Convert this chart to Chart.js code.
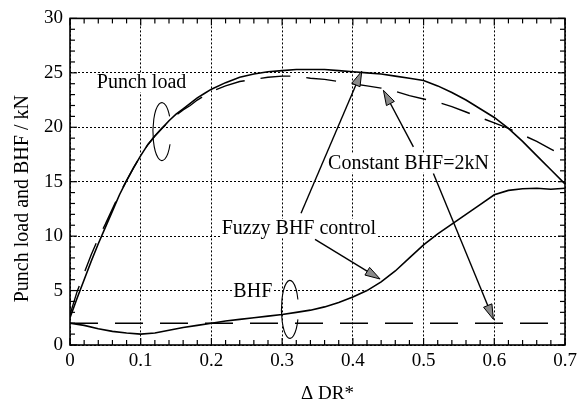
<!DOCTYPE html>
<html><head><meta charset="utf-8">
<script src="https://cdn.jsdelivr.net/npm/chart.js@4/dist/chart.umd.min.js"></script>
<style>html,body{margin:0;padding:0;background:#fff;}#wrap{width:585px;height:405px;}</style>
</head><body><div id="wrap"><canvas id="c" width="585" height="405"></canvas></div>
<script>
// ---- data ----
const xTickValues = [0, 0.1, 0.2, 0.3, 0.4, 0.5, 0.6, 0.7];
const yTickValues = [0, 5, 10, 15, 20, 25, 30];
const drLoad = [0,0.01,0.02,0.03,0.04,0.05,0.06,0.07,0.08,0.09,0.1,0.11,0.12,0.13,0.14,0.15,0.16,0.17,0.18,0.19,0.2,
  0.22,0.24,0.26,0.28,0.3,0.32,0.34,0.36,0.38,0.4,0.42,0.44,0.46,0.48,0.5,0.52,0.54,0.56,0.58,0.6,0.62,0.64,0.66,0.68,0.7];
const punchLoadFuzzy = [2.5,4.3,6.0,7.7,9.3,10.8,12.3,13.8,15.1,16.3,17.4,18.4,19.2,19.9,20.6,21.2,21.7,22.2,22.7,23.1,23.5,
  24.1,24.6,24.9,25.1,25.2,25.3,25.3,25.3,25.2,25.1,25.0,24.9,24.7,24.5,24.3,23.8,23.2,22.5,21.7,20.9,19.9,18.7,17.4,16.1,14.8];
const punchLoadConstant = [2.8,4.9,6.6,8.3,9.8,11.1,12.5,13.9,15.1,16.3,17.4,18.4,19.2,19.9,20.5,21.1,21.6,22.0,22.5,22.9,23.3,
  23.8,24.2,24.4,24.6,24.7,24.7,24.5,24.4,24.2,24.0,23.8,23.6,23.3,22.9,22.6,22.3,21.9,21.4,20.9,20.4,19.9,19.3,18.7,18.0,17.3];
const drBHF = [0,0.02,0.04,0.06,0.08,0.1,0.12,0.14,0.16,0.18,0.2,0.22,0.24,0.26,0.28,0.3,0.32,0.34,0.36,0.38,0.4,
  0.42,0.44,0.46,0.48,0.5,0.52,0.54,0.56,0.58,0.6,0.62,0.64,0.66,0.68,0.7];
const bhfFuzzy = [2.0,1.8,1.5,1.25,1.1,1.0,1.1,1.35,1.6,1.8,2.0,2.2,2.35,2.5,2.65,2.8,3.0,3.2,3.5,3.9,4.4,
  5.0,5.8,6.8,8.0,9.2,10.2,11.1,12.0,12.9,13.8,14.2,14.35,14.4,14.3,14.4];
const drConst = [0,0.1,0.2,0.3,0.4,0.5,0.6,0.7];
const bhfConstant = [2.0,2.0,2.0,2.0,2.0,2.0,2.0,2.0];
const xMinorStep = 0.02, yMinorStep = 1;

// ---- annotations (data coordinates) ----
const labels = [
  {text:'Punch load', x:0.038, y:23.6},
  {text:'BHF', x:0.231, y:4.4},
  {text:'Fuzzy BHF control', x:0.2145, y:10.2},
  {text:'Constant BHF=2kN', x:0.365, y:16.2}
];
const arrows = [
  {x0:0.3267, y0:12.1, x1:0.4126, y1:25.15},
  {x0:0.3465, y0:9.7, x1:0.4385, y1:6.06},
  {x0:0.4856, y0:18.2, x1:0.4432, y1:23.4},
  {x0:0.5139, y0:15.75, x1:0.5988, y1:2.35}
];
const loops = [
  {x:0.130, y:19.6, rx:9, ry:29, a0:0.45, a1:2*Math.PI-0.55},
  {x:0.311, y:3.27, rx:8.5, ry:29, a0:0.35, a1:2*Math.PI-0.35}
];

const zip = (xs, ys) => xs.map((x, i) => ({x, y: ys[i]}));
const FONT = '"Liberation Serif", "Times New Roman", serif';

const deco = {
  id: 'deco',
  afterDatasetsDraw(chart) {
    const {ctx, chartArea: a, scales: {x, y}} = chart;
    const line = (x0, y0, x1, y1) => { ctx.beginPath(); ctx.moveTo(x0, y0); ctx.lineTo(x1, y1); ctx.stroke(); };
    ctx.save();
    ctx.setLineDash([]);
    ctx.strokeStyle = '#000';
    // inward ticks on all four sides
    ctx.lineWidth = 1.2;
    const nx = Math.round((x.max - x.min) / xMinorStep);
    for (let i = 0; i <= nx; i++) {
      const px = x.getPixelForValue(x.min + i * xMinorStep);
      const L = i % 5 === 0 ? 7 : 5;
      line(px, a.bottom, px, a.bottom - L);
      line(px, a.top, px, a.top + L);
    }
    const ny = Math.round((y.max - y.min) / yMinorStep);
    for (let i = 0; i <= ny; i++) {
      const py = y.getPixelForValue(y.min + i * yMinorStep);
      const L = i % 5 === 0 ? 7 : 5;
      line(a.left, py, a.left + L, py);
      line(a.right, py, a.right - L, py);
    }
    // frame
    ctx.lineWidth = 1.6;
    ctx.strokeRect(a.left, a.top, a.right - a.left, a.bottom - a.top);

    // loops
    ctx.lineWidth = 1.1;
    loops.forEach(l => {
      ctx.beginPath();
      ctx.ellipse(x.getPixelForValue(l.x), y.getPixelForValue(l.y), l.rx, l.ry, 0, l.a0, l.a1);
      ctx.stroke();
    });
    // labels with white background
    ctx.font = '20px ' + FONT;
    ctx.textBaseline = 'alphabetic';
    ctx.textAlign = 'left';
    labels.forEach(t => {
      const px = x.getPixelForValue(t.x), py = y.getPixelForValue(t.y);
      const w = ctx.measureText(t.text).width;
      ctx.fillStyle = '#fff';
      ctx.fillRect(px - 1, py - 15, w + 2, 19);
      ctx.fillStyle = '#000';
      ctx.fillText(t.text, px, py);
    });
    // arrows
    arrows.forEach(r => {
      const x0 = x.getPixelForValue(r.x0), y0 = y.getPixelForValue(r.y0);
      const x1 = x.getPixelForValue(r.x1), y1 = y.getPixelForValue(r.y1);
      const dx = x1 - x0, dy = y1 - y0, d = Math.hypot(dx, dy);
      const ux = dx / d, uy = dy / d, L = 15, W = 4.5;
      ctx.lineWidth = 1.4;
      ctx.strokeStyle = '#000';
      line(x0, y0, x1 - ux * L * 0.6, y1 - uy * L * 0.6);
      const bx = x1 - ux * L, by = y1 - uy * L;
      ctx.beginPath();
      ctx.moveTo(x1, y1);
      ctx.lineTo(bx - uy * W, by + ux * W);
      ctx.lineTo(bx + uy * W, by - ux * W);
      ctx.closePath();
      ctx.fillStyle = '#8a8a8a';
      ctx.fill();
      ctx.lineWidth = 1;
      ctx.stroke();
    });
    ctx.restore();
  },
  afterDraw(chart) {
    const {ctx, chartArea: a} = chart;
    ctx.save();
    ctx.fillStyle = '#000';
    ctx.font = '20px ' + FONT;
    ctx.textAlign = 'center';
    ctx.textBaseline = 'middle';
    ctx.translate(23, (a.top + a.bottom) / 2 + 17);
    ctx.rotate(-Math.PI / 2);
    ctx.fillText('Punch load and BHF / kN', 0, 0);
    ctx.restore();
    ctx.save();
    ctx.fillStyle = '#000';
    ctx.font = '19px ' + FONT;
    ctx.textAlign = 'center';
    ctx.textBaseline = 'alphabetic';
    ctx.fillText('\u0394 DR*', (a.left + a.right) / 2 + 10, 399);
    ctx.restore();
  }
};

const solid = {borderColor: '#000', borderWidth: 1.6, pointRadius: 0, tension: 0, fill: false};
new Chart(document.getElementById('c'), {
  type: 'line',
  data: {
    datasets: [
      {...solid, label: 'Punch load (fuzzy BHF control)', data: zip(drLoad, punchLoadFuzzy)},
      {...solid, label: 'Punch load (constant BHF=2kN)', data: zip(drLoad, punchLoadConstant), borderDash: [30, 16], borderWidth: 1.4},
      {...solid, label: 'BHF (fuzzy BHF control)', data: zip(drBHF, bhfFuzzy)},
      {...solid, label: 'BHF (constant 2kN)', data: zip(drConst, bhfConstant), borderDash: [28, 17], borderWidth: 1.4}
    ]
  },
  options: {
    responsive: false,
    animation: false,
    devicePixelRatio: 1,
    layout: {padding: {left: 0, right: 20, top: 15, bottom: 0}},
    plugins: {legend: {display: false}, tooltip: {enabled: false}},
    scales: {
      x: {
        type: 'linear', min: 0, max: 0.7,
        afterBuildTicks: s => { s.ticks = xTickValues.map(v => ({value: v})); },
        afterFit: s => { s.height = 60; },
        ticks: {color: '#000', font: {family: FONT, size: 19}, padding: 5, maxRotation: 0,
          callback: v => (v === 0 ? '0' : (+v).toFixed(1))},
        grid: {color: '#000', lineWidth: 1, drawTicks: false, borderDash: [2, 2]},
        border: {display: false, dash: [2, 2]}
      },
      y: {
        min: 0, max: 30,
        afterBuildTicks: s => { s.ticks = yTickValues.map(v => ({value: v})); },
        afterFit: s => { s.width = 70; },
        ticks: {color: '#000', font: {family: FONT, size: 19}, padding: 7},
        grid: {color: '#000', lineWidth: 1, drawTicks: false, borderDash: [2, 2]},
        border: {display: false, dash: [2, 2]}
      }
    }
  },
  plugins: [deco]
});
</script></body></html>
